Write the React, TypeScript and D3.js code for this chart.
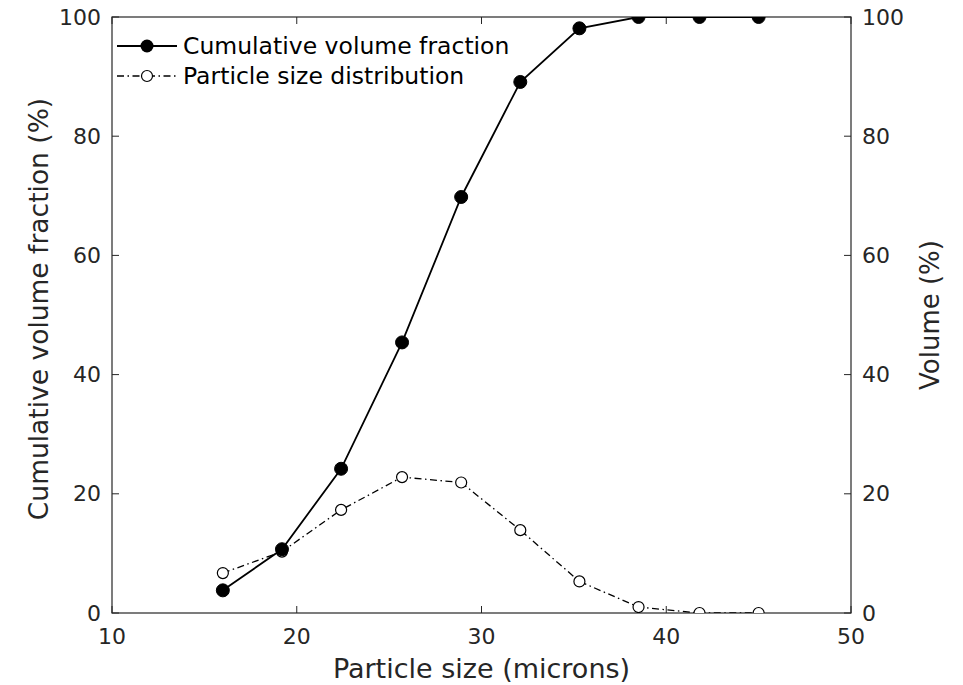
import React from "react";
import * as d3 from "d3";

const sizes = [16, 19.2, 22.4, 25.7, 28.9, 32.1, 35.3, 38.5, 41.8, 45];
const cumulative = [3.8, 10.7, 24.2, 45.4, 69.8, 89.1, 98.1, 100, 100, 100];
const distribution = [6.7, 10.3, 17.3, 22.8, 21.9, 13.9, 5.3, 1.0, 0, 0];
const xTicks = [10, 20, 30, 40, 50];
const yTicks = [0, 20, 40, 60, 80, 100];
const seriesNames = ["Cumulative volume fraction", "Particle size distribution"];

const W = 963;
const H = 685;
const L = 112, R = 851, T = 17, B = 613;
const INK = "#262626";
const FONT = "DejaVu Sans, sans-serif";
const TICK = 7;
const DASH = "7,3.5,1.5,3.5";

export default function App() {
  const x = d3.scaleLinear().domain([10, 50]).range([L, R]);
  const y = d3.scaleLinear().domain([0, 100]).range([B, T]);
  const yr = d3.scaleLinear().domain([0, 100]).range([B, T]);
  const cumLine = d3.line<number>().x((_, i) => x(sizes[i])).y((d) => y(d));
  const distLine = d3.line<number>().x((_, i) => x(sizes[i])).y((d) => yr(d));

  return (
    <div style={{ position: "fixed", left: 0, top: 0 }}>
      <svg width={W} height={H} style={{ display: "block", background: "#fff" }}>
        <defs>
          <clipPath id="plotclip">
            <rect x={L} y={T} width={R - L} height={B - T} />
          </clipPath>
        </defs>
        <rect x={0} y={0} width={W} height={H} fill="#fff" />
        {xTicks.map((t) => (
          <g key={"xt" + t}>
            <line x1={x(t)} x2={x(t)} y1={B} y2={B - TICK} stroke={INK} strokeWidth={1} />
            <line x1={x(t)} x2={x(t)} y1={T} y2={T + TICK} stroke={INK} strokeWidth={1} />
            <text x={x(t)} y={636} textAnchor="middle" dominantBaseline="central"
              fontFamily={FONT} fontSize={22} fill={INK}>{t}</text>
          </g>
        ))}
        {yTicks.map((t) => (
          <g key={"yt" + t}>
            <line x1={L} x2={L + TICK} y1={y(t)} y2={y(t)} stroke={INK} strokeWidth={1} />
            <text x={L - 11} y={y(t)} textAnchor="end" dominantBaseline="central"
              fontFamily={FONT} fontSize={22} fill={INK}>{t}</text>
          </g>
        ))}
        {yTicks.map((t) => (
          <g key={"yr" + t}>
            <line x1={R} x2={R - TICK} y1={yr(t)} y2={yr(t)} stroke={INK} strokeWidth={1} />
            <text x={R + 11} y={yr(t)} textAnchor="start" dominantBaseline="central"
              fontFamily={FONT} fontSize={22} fill={INK}>{t}</text>
          </g>
        ))}
        <rect x={L} y={T} width={R - L} height={B - T} fill="none" stroke={INK} strokeWidth={1.2} />
        <g clipPath="url(#plotclip)">
          <path d={distLine(distribution) || ""} fill="none" stroke="#000" strokeWidth={1.3}
            strokeDasharray={DASH} />
          {distribution.map((v, i) => (
            <circle key={"d" + i} cx={x(sizes[i])} cy={yr(v)} r={5.5} fill="#fff" stroke="#000" strokeWidth={1.2} />
          ))}
          <path d={cumLine(cumulative) || ""} fill="none" stroke="#000" strokeWidth={1.8} />
          {cumulative.map((v, i) => (
            <circle key={"c" + i} cx={x(sizes[i])} cy={y(v)} r={6.5} fill="#000" stroke="#000" strokeWidth={1} />
          ))}
        </g>
        <g>
          <line x1={117} x2={177} y1={46} y2={46} stroke="#000" strokeWidth={1.8} />
          <circle cx={147} cy={46} r={6.5} fill="#000" />
          <text x={183} y={46} dominantBaseline="central" fontFamily={FONT} fontSize={23.5} fill="#000">{seriesNames[0]}</text>
          <line x1={117} x2={177} y1={76} y2={76} stroke="#000" strokeWidth={1.3} strokeDasharray={DASH} />
          <circle cx={147} cy={76} r={5.5} fill="#fff" stroke="#000" strokeWidth={1.2} />
          <text x={183} y={76} dominantBaseline="central" fontFamily={FONT} fontSize={23.5} fill="#000">{seriesNames[1]}</text>
        </g>
        <text x={(L + R) / 2} y={668} textAnchor="middle" dominantBaseline="central"
          fontFamily={FONT} fontSize={27} fill={INK}>Particle size (microns)</text>
        <text transform={`translate(38,309) rotate(-90)`} textAnchor="middle"
          dominantBaseline="central" fontFamily={FONT} fontSize={26.5} fill={INK}>Cumulative volume fraction (%)</text>
        <text transform={`translate(930,315) rotate(-90)`} textAnchor="middle"
          dominantBaseline="central" fontFamily={FONT} fontSize={26} fill={INK}>Volume (%)</text>
      </svg>
    </div>
  );
}
